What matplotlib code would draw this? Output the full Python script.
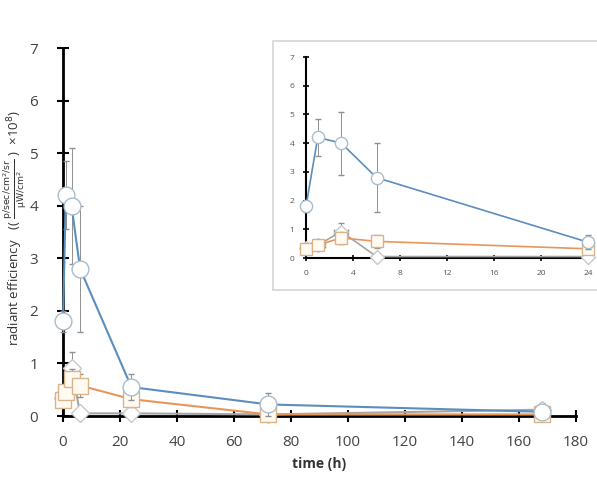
import matplotlib
matplotlib.use("Agg")
import matplotlib.pyplot as plt
from matplotlib.patches import Rectangle

time = [0, 1, 3, 6, 24, 72, 168]
circ = [1.8, 4.2, 4.0, 2.8, 0.55, 0.22, 0.08]
circ_err = [0.2, 0.65, 1.1, 1.2, 0.25, 0.22, 0.05]
sq = [0.3, 0.45, 0.7, 0.58, 0.32, 0.03, 0.03]
sq_err = [0.1, 0.15, 0.2, 0.22, 0.15, 0.03, 0.03]
dia = [0.35, 0.45, 0.92, 0.05, 0.05, 0.03, 0.12]
dia_err = [0.1, 0.12, 0.3, 0.05, 0.05, 0.03, 0.12]
dia_xerr = [0, 0.6, 0.6, 0, 0, 0, 0]

main_xticks = [0, 20, 40, 60, 80, 100, 120, 140, 160, 180]
inset_xticks = [0, 4, 8, 12, 16, 20, 24]
yticks = [0, 1, 2, 3, 4, 5, 6, 7]

blue = "#5b8ebd"
orange = "#e8955a"
gray = "#a5a5a5"

plt.rcParams['font.family'] = ['Open Sans', 'DejaVu Sans']

fig = plt.figure(figsize=(5.97, 4.86), dpi=100)


def draw(ax, xs, ms, lw, inset=False):
    n = len(xs)
    ax.errorbar(xs, dia[:n], yerr=dia_err[:n], xerr=(dia_xerr[:n] if inset else None),
                color=gray, lw=lw, marker="D", ms=ms * 0.85, mfc="white", mec="#c8c8c8",
                ecolor="#909090", elinewidth=0.7, capsize=2, zorder=3, clip_on=False)
    ax.errorbar(xs, sq[:n], yerr=sq_err[:n], color=orange, lw=lw, marker="s", ms=ms,
                mfc="#fffaf2", mec="#d9b48a", ecolor="#909090", elinewidth=0.7, capsize=2,
                zorder=4, clip_on=False)
    ax.errorbar(xs, circ[:n], yerr=circ_err[:n], color=blue, lw=lw, marker="o", ms=ms * 1.1,
                mfc="white", mec="#a9bccc", ecolor="#909090", elinewidth=0.7, capsize=2,
                zorder=5, clip_on=False)


# main axes
ax = fig.add_axes([63 / 597, 1 - 416 / 486, (576 - 63) / 597, (416 - 48) / 486])
draw(ax, time, 11, 1.5)
ax.set_xlim(0, 180)
ax.set_ylim(0, 7)
ax.set_xticks(main_xticks)
ax.set_yticks(yticks)
for s in ["top", "right"]:
    ax.spines[s].set_visible(False)
for s in ["left", "bottom"]:
    ax.spines[s].set_linewidth(2)
    ax.spines[s].set_color("black")
ax.tick_params(direction="inout", length=8, width=1.5, labelsize=11, colors="black",
               labelcolor="#444444", pad=10)
ax.tick_params(axis="y", pad=14)
ax.set_xlabel("time (h)", fontsize=10, fontweight="bold", color="#333333", labelpad=5)
fig.text(15.5 / 597, 1 - 228 / 486,
         r"radiant efficiency   (( $\frac{\mathrm{p/sec/cm^2/sr}}{\mathrm{\mu W/cm^2}}$ )  ×10$^8$)",
         rotation=90, ha="center", va="center", fontsize=9.5, color="#333333")

# inset frame
fig.patches.append(Rectangle((273 / 597, 1 - 290 / 486), (600 - 273) / 597, (290 - 41) / 486,
                             transform=fig.transFigure, fill=True, facecolor="white",
                             edgecolor="#d6d6d6", lw=1.2, zorder=10))

ins = fig.add_axes([306 / 597, 1 - 258 / 486, (588 - 306) / 597, (258 - 57) / 486], zorder=11)
ins.patch.set_alpha(0)
draw(ins, time[:5], 8, 1.2, inset=True)
ins.set_xlim(0, 24)
ins.set_ylim(0, 7)
ins.set_xticks(inset_xticks)
ins.set_yticks(yticks)
for s in ["top", "right"]:
    ins.spines[s].set_visible(False)
for s in ["left", "bottom"]:
    ins.spines[s].set_linewidth(1.5)
    ins.spines[s].set_color("black")
ins.tick_params(direction="inout", length=5, width=1.2, labelsize=6, colors="black",
                labelcolor="#555555", pad=6)

fig.savefig("out.png", dpi=100)
